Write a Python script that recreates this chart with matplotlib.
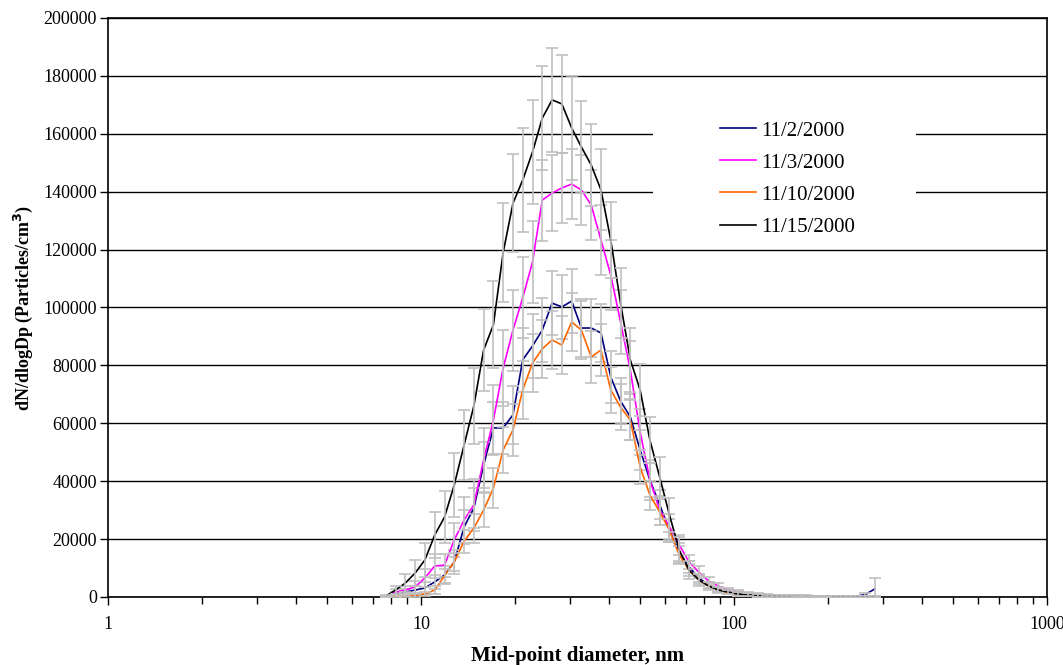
import matplotlib
matplotlib.use('Agg')
import matplotlib.pyplot as plt
from matplotlib.patches import Rectangle
from matplotlib.ticker import LogLocator, FixedLocator, NullFormatter

plt.rcParams['font.family'] = ['Liberation Serif', 'DejaVu Serif']

# SMPS channel mid-point diameters (nm)
diam = [7.72, 8.29, 8.91, 9.58, 10.29, 11.06, 11.89, 12.77, 13.73, 14.75,
        15.85, 17.03, 18.30, 19.67, 21.13, 22.71, 24.40, 26.23, 28.18, 30.29,
        32.54, 34.97, 37.58, 40.38, 43.39, 46.63, 50.12, 53.85, 57.88, 62.19,
        66.83, 71.81, 77.16, 82.93, 89.13, 95.79, 102.9, 110.6, 118.9, 127.7,
        137.3, 147.5, 158.5, 170.3, 183.0, 196.7, 211.3, 227.1, 244.0, 262.3,
        281.8]

# dN/dlogDp, particles/cm3
nov02 = [0, 1000, 1700, 2400, 3100, 5200, 7600, 12100, 24200, 30700,
         45600, 58400, 58400, 62900, 81900, 86700, 92200, 101500, 100200, 102200,
         92900, 92900, 91200, 76000, 67700, 62200, 50800, 40400, 31800, 23100,
         15500, 10400, 6600, 4100, 2800, 2100, 1400, 1000, 700, 500,
         400, 300, 300, 200, 200, 200, 200, 200, 200, 800,
         2800]
nov03 = [200, 1700, 2400, 3500, 6600, 10700, 11000, 19700, 26600, 31800,
         47300, 61100, 79100, 92200, 103300, 115700, 137100, 139500, 141300, 142600,
         140600, 135400, 123300, 111200, 95000, 78400, 57000, 40400, 30000, 24200,
         18000, 12100, 8600, 5500, 3800, 2400, 1700, 1200, 900, 700,
         500, 400, 300, 300, 200, 200, 200, 150, 150, 100,
         100]
nov10 = [0, 300, 300, 500, 1000, 2400, 7300, 12100, 19300, 23800,
         30000, 37600, 50800, 57700, 71500, 80800, 85700, 88800, 87000, 95000,
         92200, 82900, 85300, 71500, 65600, 61100, 44900, 35200, 29400, 23100,
         14500, 9300, 5900, 3800, 2400, 1500, 1000, 700, 500, 400,
         300, 250, 200, 200, 150, 150, 100, 100, 100, 100,
         100]
nov15 = [300, 2400, 4800, 8300, 12800, 21400, 27600, 38700, 52500, 66000,
         85300, 94000, 119000, 136000, 144000, 153700, 165400, 171700, 170300, 162000,
         155400, 149200, 140600, 123300, 101500, 81900, 71500, 54200, 41400, 28300,
         16200, 9300, 5900, 3800, 2400, 1700, 1000, 700, 500, 400,
         300, 250, 200, 200, 150, 150, 100, 100, 100, 100,
         100]

# standard deviations
err02 = [0, 600, 1000, 1500, 2000, 2500, 3000, 4000, 6000, 7000,
         8000, 9000, 9000, 10000, 11000, 11000, 11000, 11000, 11000, 11000,
         10000, 10000, 10000, 9000, 8000, 8000, 7000, 6000, 5000, 4000,
         3000, 2000, 1500, 1000, 800, 600, 500, 400, 400, 300,
         300, 300, 300, 300, 300, 300, 300, 300, 300, 500,
         3700]
err03 = [200, 1000, 1500, 2000, 3000, 4000, 4000, 6000, 8000, 9000,
         11000, 12000, 13000, 14000, 14000, 14000, 14000, 13000, 12000, 12000,
         12000, 12000, 12000, 12000, 11000, 10000, 8000, 7000, 5000, 4500,
         3500, 2500, 2000, 1500, 1000, 800, 600, 500, 400, 400,
         300, 300, 300, 300, 300, 300, 300, 300, 300, 300,
         300]
err10 = [0, 300, 300, 500, 800, 1500, 2500, 3000, 4000, 5000,
         6000, 7000, 8000, 9000, 10000, 10000, 10000, 10000, 10000, 10000,
         10000, 9000, 9000, 8000, 8000, 7000, 6000, 5000, 4500, 4000,
         3000, 2000, 1500, 1000, 800, 600, 500, 400, 400, 300,
         300, 300, 300, 300, 300, 300, 300, 300, 300, 300,
         300]
err15 = [300, 1500, 3000, 4500, 6000, 8000, 9000, 11000, 12000, 13000,
         14000, 15000, 17000, 17000, 18000, 18000, 18000, 18000, 17000, 18000,
         16000, 14000, 14000, 13000, 12000, 11000, 9000, 8000, 7000, 6000,
         4500, 3000, 2000, 1500, 1000, 800, 600, 500, 400, 400,
         300, 300, 300, 300, 300, 300, 300, 300, 300, 400,
         400]

labels = ['11/2/2000', '11/3/2000', '11/10/2000', '11/15/2000']
colors = ['#000080', '#FF00FF', '#FF6600', '#000000']
series = [nov02, nov03, nov10, nov15]
errors = [err02, err03, err10, err15]

fig = plt.figure(figsize=(10.63, 6.65), dpi=100)
ax = fig.add_axes([0.1016, 0.1023, 0.8834, 0.8707])

for i in range(len(series)):
	ax.plot(diam, series[i], color=colors[i], lw=1.2, label=labels[i], zorder=2 + i)
	ax.errorbar(diam, series[i], yerr=errors[i], fmt='none', ecolor='#C0C0C0',
	            elinewidth=1.2, capsize=4, capthick=1.2, zorder=2.5 + i)

ax.set_xscale('log')
ax.set_xlim(1, 1000)
ax.set_ylim(0, 200000)
ax.set_yticks(range(0, 200001, 20000))
ax.xaxis.set_major_locator(FixedLocator([1, 10, 100, 1000]))
ax.set_xticklabels(['1', '10', '100', '1000'])
ax.xaxis.set_minor_locator(LogLocator(base=10, subs=range(2, 10)))
ax.xaxis.set_minor_formatter(NullFormatter())

ax.set_axisbelow(True)
ax.yaxis.grid(True, color='black', lw=1.0)
ax.tick_params(axis='both', which='major', direction='out', length=6, width=1,
               labelsize=13, color='black')
ax.tick_params(axis='x', which='minor', direction='out', length=5, width=1)
ax.tick_params(axis='x', pad=8)
ax.tick_params(axis='y', pad=2)
for sp in ax.spines.values():
	sp.set_linewidth(1.2)

# blank area behind the legend
ax.add_patch(Rectangle((0.58, 0.605), 0.28, 0.23, transform=ax.transAxes,
                       facecolor='white', edgecolor='none', zorder=1))

ax.legend(loc='upper left', bbox_to_anchor=(0.652, 0.822), frameon=False,
          fontsize=15, handlelength=1.7, handletextpad=0.25, labelspacing=0.6,
          borderaxespad=0, borderpad=0)

ax.set_xlabel('Mid-point diameter, nm', fontsize=15, fontweight='bold', labelpad=9)
ax.set_ylabel('dN/dlogDp (Particles/cm$^\\mathbf{3}$)', fontsize=13,
              fontweight='bold', labelpad=6)

plt.savefig('out.png', dpi=100)
plt.close()
